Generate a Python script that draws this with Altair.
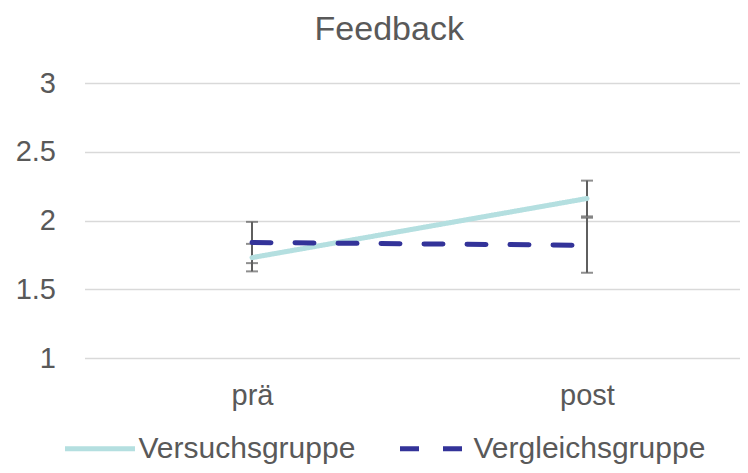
import json
import altair as alt
import pandas as pd

# ---- data ----
zeitpunkte = ["prä", "post"]
gruppen = ["Versuchsgruppe", "Vergleichsgruppe"]
versuch_mittel = [1.73, 2.16]
versuch_fehler = [0.10, 0.13]
vergleich_mittel = [1.84, 1.82]
vergleich_fehler = [0.15, 0.20]
y_ticks = [1, 1.5, 2, 2.5, 3]

rows = []
for g, means, errs in [(gruppen[0], versuch_mittel, versuch_fehler),
                       (gruppen[1], vergleich_mittel, vergleich_fehler)]:
    for i, (t, m, e) in enumerate(zip(zeitpunkte, means, errs)):
        rows.append({"gruppe": g, "zeit": t, "idx": i, "wert": m,
                     "lo": round(m - e, 3), "hi": round(m + e, 3)})
df = pd.DataFrame(rows)

TXT = "#595959"
FONT = "Liberation Sans"

xscale = alt.Scale(domain=[-0.5, 1.4567], nice=False, zero=False)
yscale = alt.Scale(domain=[1, 3], nice=False, zero=False)

xaxis = alt.Axis(values=[0, 1], labelExpr=f"{json.dumps(zeitpunkte)}[datum.value]",
                 grid=False, domain=False, ticks=False, title=None,
                 labelFontSize=29, labelColor=TXT, labelFont=FONT, labelPadding=23)
yaxis = alt.Axis(values=y_ticks, format="~g", grid=True, gridColor="#d9d9d9",
                 gridWidth=1.5, domain=False, ticks=False, title=None,
                 labelFontSize=29, labelColor=TXT, labelFont=FONT, labelPadding=29)

legend = alt.Legend(orient="none", legendX=-22, legendY=328, direction="horizontal",
                    title=None, labelFontSize=30, labelColor=TXT, labelFont=FONT,
                    symbolType="stroke", symbolSize=4900, symbolStrokeWidth=5,
                    labelOffset=1, columnPadding=34, labelLimit=0)

color = alt.Color("gruppe:N", scale=alt.Scale(domain=gruppen, range=["#b4dfe0", "#333399"]),
                  legend=legend)
dash = alt.StrokeDash("gruppe:N", scale=alt.Scale(domain=gruppen, range=[[1, 0], [19, 24]]),
                      legend=legend)

base = alt.Chart(df)

err_rule = base.mark_rule(color="#5f5f5f", strokeWidth=2).encode(
    x=alt.X("idx:Q", scale=xscale, axis=xaxis),
    y=alt.Y("lo:Q", scale=yscale, axis=yaxis),
    y2="hi:Q",
)
err_ticks = base.transform_fold(["lo", "hi"], as_=["k", "v"]).mark_tick(
    color="#5f5f5f", orient="horizontal", size=12, thickness=2
).encode(
    x=alt.X("idx:Q", scale=xscale, axis=xaxis),
    y=alt.Y("v:Q", scale=yscale, axis=yaxis),
)

def line_layer(g):
    return base.transform_filter(alt.datum.gruppe == g).mark_line(
        strokeWidth=5, strokeCap="round"
    ).encode(
        x=alt.X("idx:Q", scale=xscale, axis=xaxis),
        y=alt.Y("wert:Q", scale=yscale, axis=yaxis),
        color=color,
        strokeDash=dash,
    )

chart = alt.layer(err_rule, err_ticks, line_layer(gruppen[0]), line_layer(gruppen[1])).properties(
    width=655.5,
    height=275,
    title=alt.TitleParams("Feedback", fontSize=34, color=TXT, font=FONT, fontWeight="normal",
                          anchor="middle", frame="group", dx=-23, offset=22),
    autosize=alt.AutoSizeParams(type="none"),
    padding={"left": 76.5, "top": 75, "right": 0, "bottom": 107},
).configure(font=FONT, view=alt.ViewConfig(stroke=None))

chart.save("out.html", embed_options={"renderer": "svg", "actions": False})
